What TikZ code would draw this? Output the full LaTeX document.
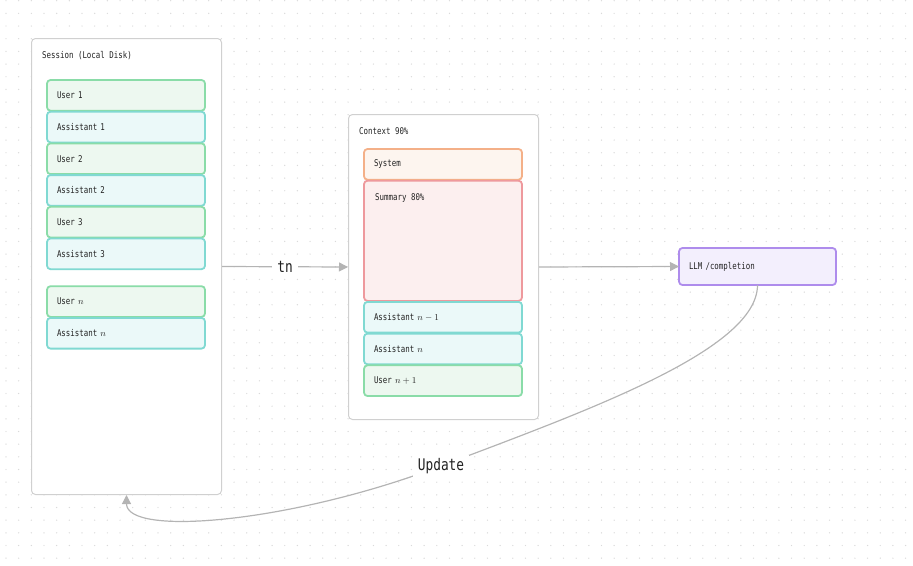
\documentclass[tikz,border=0pt]{standalone}
\usepackage{fontspec}
\newfontfamily\labfont[FakeStretch=0.8]{DejaVu Sans Mono}
\usetikzlibrary{positioning,arrows.meta}

\definecolor{dotgray}{HTML}{DADADA}
\definecolor{boxgray}{HTML}{D0D0D0}
\definecolor{linegray}{HTML}{B4B4B4}
\definecolor{usrline}{HTML}{8ADCA8}
\definecolor{usrfill}{HTML}{EDF8F0}
\definecolor{astline}{HTML}{80D9D2}
\definecolor{astfill}{HTML}{EBF9F9}
\definecolor{sysline}{HTML}{F4B088}
\definecolor{sysfill}{HTML}{FDF5EF}
\definecolor{sumline}{HTML}{EE999D}
\definecolor{sumfill}{HTML}{FCEFEF}
\definecolor{llmline}{HTML}{AE8CEC}
\definecolor{llmfill}{HTML}{F3EFFD}
\definecolor{ink}{HTML}{222222}

\begin{document}
\begin{tikzpicture}[x=1pt,y=-1pt,
  box/.style={draw=boxgray,fill=white,rounded corners=4pt,line width=1pt,anchor=north west,inner sep=0},
  item/.style={line width=1.8pt,rounded corners=3.5pt,minimum width=158pt,minimum height=30.7pt,
    text width=138pt,inner xsep=10pt,align=left,outer sep=0,text=ink,font=\labfont\fontsize{9.3}{11}\selectfont},
  user/.style={item,draw=usrline,fill=usrfill},
  asst/.style={item,draw=astline,fill=astfill},
  lab/.style={inner sep=0,text=ink,font=\labfont\fontsize{9.3}{11}\selectfont},
  conn/.style={draw=linegray,line width=1.2pt,-{Triangle[length=9pt,width=9pt]}},
  lbl/.style={fill=white,inner xsep=5pt,text=ink,font=\labfont\fontsize{16}{18}\selectfont}]
  \useasboundingbox (0,0) rectangle (913,565);
  % dotted canvas
  \foreach \i in {0,...,72}
    \foreach \j in {0,...,45}
      \fill[dotgray] (6+12.67*\i,0.7+12.67*\j) circle (0.7);

  % session
  \node[box,minimum width=190pt,minimum height=456pt] (sess) at (31,38) {};
  \node[lab,below right=13pt and 11pt of sess.north west] (sesslab) {Session (Local Disk)};
  \node[user,anchor=north west] (u1) at (47,80) {User 1};
  \node[asst,below=1pt of u1] (a1) {Assistant 1};
  \node[user,below=1pt of a1] (u2) {User 2};
  \node[asst,below=1pt of u2] (a2) {Assistant 2};
  \node[user,below=1pt of a2] (u3) {User 3};
  \node[asst,below=1pt of u3] (a3) {Assistant 3};
  \node[user,below=17pt of a3] (un) {User $n$};
  \node[asst,below=1pt of un] (an) {Assistant $n$};

  % context
  \node[box,minimum width=190pt,minimum height=305pt] (ctx) at (348,114) {};
  \node[lab,below right=13pt and 11pt of ctx.north west] (ctxlab) {Context 90\%};
  \node[item,draw=sysline,fill=sysfill,anchor=north west] (sys) at (364,149) {System};
  \node[item,draw=sumline,fill=sumfill,below=1pt of sys,minimum height=120.2pt] (sum) {};
  \node[lab,below right=13pt and 11pt of sum.north west] (sumlab) {Summary 80\%};
  \node[asst,below=1pt of sum] (cn1) {Assistant $n-1$};
  \node[asst,below=1pt of cn1] (cn) {Assistant $n$};
  \node[user,below=1pt of cn] (cu) {User $n+1$};

  % model
  \node[item,draw=llmline,fill=llmfill,anchor=north west,minimum width=157pt,text width=137pt,minimum height=37pt] (llm) at (679,248) {LLM /completion};

  \draw[conn] (sess.east) -- node[lbl] {tn} (ctx.west);
  \draw[conn] (ctx.east) -- (llm.west);
  \draw[conn] (llm.south) .. controls +(0,65) and +(145,-55) .. (441,466) node[lbl] {Update}
    .. controls +(-150,57) and +(0,42) .. (sess.south);
\end{tikzpicture}
\end{document}
